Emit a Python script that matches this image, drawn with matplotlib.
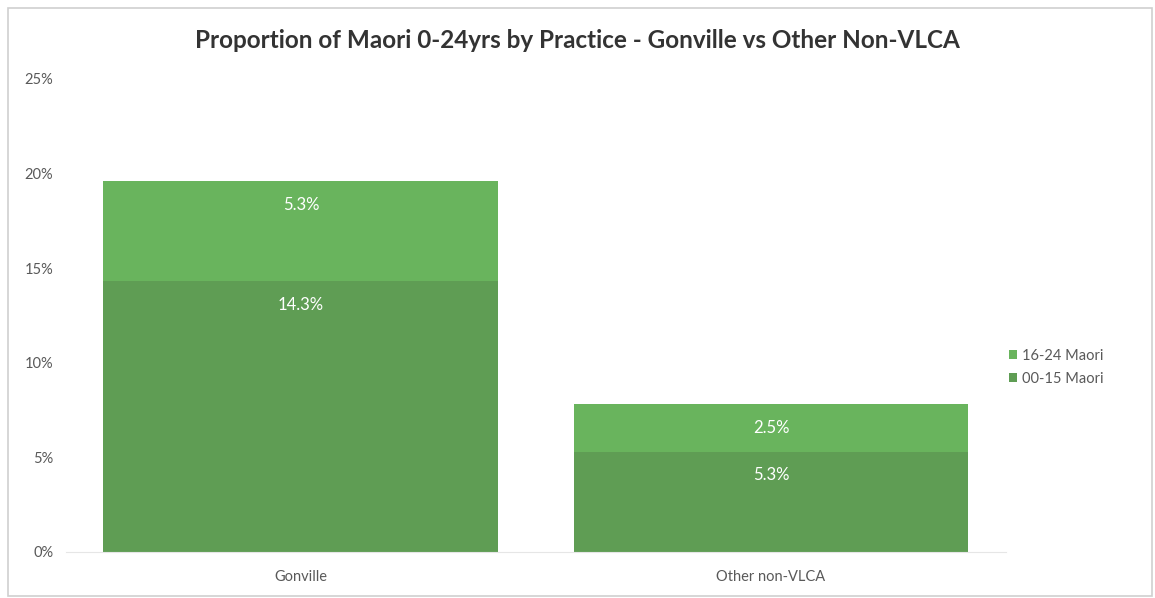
import matplotlib.pyplot as plt
from matplotlib.patches import Rectangle
from matplotlib.ticker import PercentFormatter

practices = ['Gonville', 'Other non-VLCA']
maori_00_15 = [14.3, 5.3]
maori_16_24 = [5.3, 2.5]
y_ticks = [0, 5, 10, 15, 20, 25]

dark_green = '#5f9d54'
light_green = '#69b45d'
text_grey = '#595959'

plt.rcParams['font.family'] = ['Lato', 'DejaVu Sans']

fig = plt.figure(figsize=(11.55, 5.98), dpi=100)
ax = fig.add_axes([0.057, 0.077, 0.814, 0.791])

x = range(len(practices))
b1 = ax.bar(x, maori_00_15, width=0.84, color=dark_green, label='00-15 Maori')
b2 = ax.bar(x, maori_16_24, width=0.84, bottom=maori_00_15, color=light_green,
            label='16-24 Maori')

# value labels sit just inside the top of each segment
for bars, vals, bottoms in [(b1, maori_00_15, [0, 0]), (b2, maori_16_24, maori_00_15)]:
    for rect, v, b in zip(bars, vals, bottoms):
        ax.annotate(f'{v:.1f}%', (rect.get_x() + rect.get_width() / 2, b + v),
                    xytext=(0, -17), textcoords='offset points',
                    ha='center', va='center', color='white', fontsize=12)

ax.set_xlim(-0.5, 1.5)
ax.set_ylim(0, 25)
ax.set_yticks(y_ticks)
ax.yaxis.set_major_formatter(PercentFormatter(decimals=0))
ax.set_xticks(list(x))
ax.set_xticklabels(practices)
ax.tick_params(length=0, colors=text_grey, labelsize=10.5)
ax.tick_params(axis='x', pad=13)
ax.tick_params(axis='y', pad=9)
for side in ['top', 'right', 'left']:
    ax.spines[side].set_visible(False)
ax.spines['bottom'].set_color('#e6e6e6')

fig.suptitle('Proportion of Maori 0-24yrs by Practice - Gonville vs Other Non-VLCA',
             x=0.5, y=0.952, fontsize=17.5, fontweight='bold', color='#333333')

handles, labels = ax.get_legend_handles_labels()
leg = fig.legend(handles[::-1], labels[::-1], loc='center left',
                 bbox_to_anchor=(0.862, 0.386), frameon=False, fontsize=10.5,
                 handlelength=0.6, handleheight=0.6, handletextpad=0.3,
                 labelspacing=0.6)
for t in leg.get_texts():
    t.set_color(text_grey)

# thin frame round the whole chart
fig.patches.append(Rectangle((0.007, 0.003), 0.99, 0.983, transform=fig.transFigure,
                             fill=False, edgecolor='#cfcfcf', linewidth=1.2))

fig.savefig('out.png', dpi=100)
